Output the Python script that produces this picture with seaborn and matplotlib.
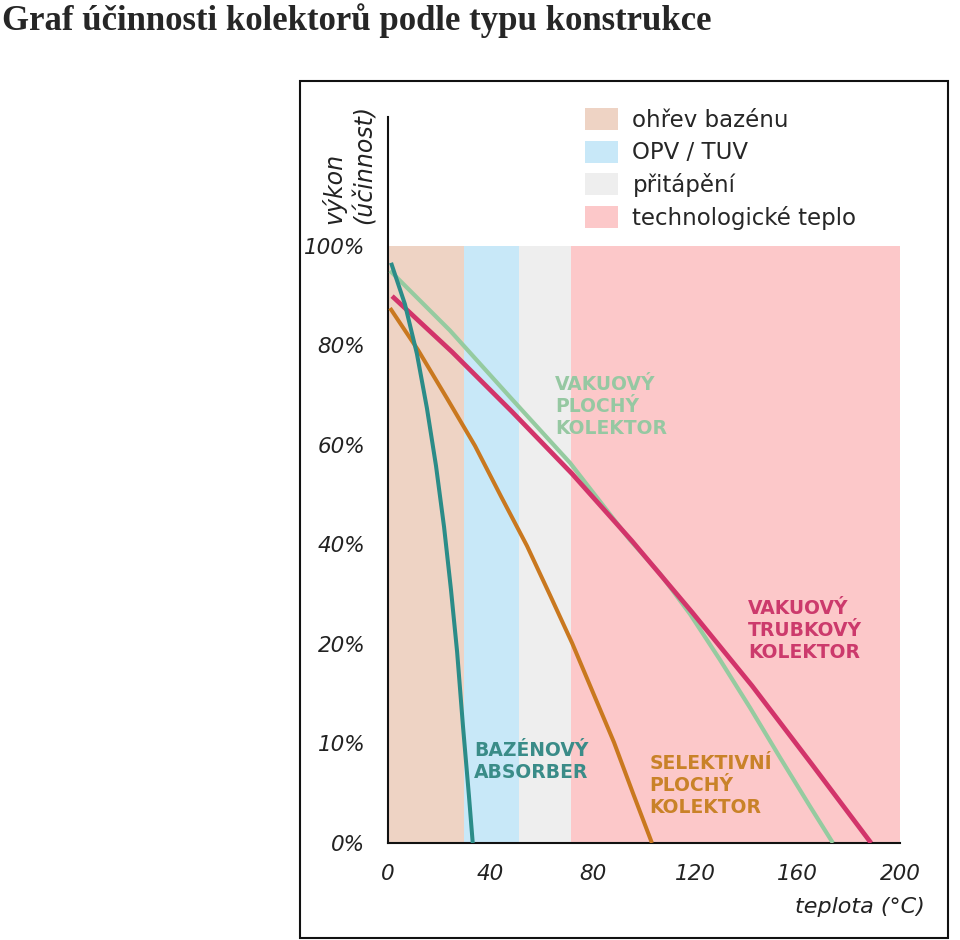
import numpy as np
import pandas as pd
import matplotlib
matplotlib.use('Agg')
import matplotlib.pyplot as plt
from matplotlib.patches import Rectangle
import seaborn as sns

# ---------------- data ----------------
title = 'Graf účinnosti kolektorů podle typu konstrukce'

band_names = ['ohřev bazénu', 'OPV / TUV', 'přitápění', 'technologické teplo']
band_edges = [0, 29.5, 51, 71.5, 200]
band_top = 100

x_ticks = [0, 40, 80, 120, 160, 200]
x_minor = [20, 60, 100, 140, 180]
y_ticks = [0, 10, 20, 40, 60, 80, 100]
y_tick_labels = ['0%', '10%', '20%', '40%', '60%', '80%', '100%']
y_minor = [5, 15, 30, 50, 70, 90]

bazen_name = 'BAZÉNOVÝ\nABSORBER'
bazen_t = [1.2, 6.6, 11.3, 15.2, 18.75, 21.9, 24.6, 27.0, 29.3, 31.6, 33.1]
bazen_eff = [96.6, 88.3, 78.3, 67.4, 55.8, 43.5, 30.9, 19.2, 11.7, 4.8, 0.0]

selekt_name = 'SELEKTIVNÍ\nPLOCHÝ\nKOLEKTOR'
selekt_t = [0.8, 11.7, 23.0, 34.0, 44.1, 54.3, 63.3, 71.9, 80.1, 88.3, 95.7, 103.1]
selekt_eff = [87.5, 79.1, 69.4, 59.8, 49.7, 39.7, 29.8, 20.2, 15.1, 10.1, 5.0, 0.0]

vplochy_name = 'VAKUOVÝ\nPLOCHÝ\nKOLEKTOR'
vplochy_t = [0.8, 24.2, 47.7, 71.1, 94.5, 106.3, 118.0, 129.7, 141.4, 153.1, 164.8, 173.8]
vplochy_eff = [95.0, 83.0, 69.6, 56.4, 40.9, 34.1, 26.0, 18.4, 13.6, 8.6, 3.7, 0.0]

vtrub_name = 'VAKUOVÝ\nTRUBKOVÝ\nKOLEKTOR'
vtrub_t = [1.6, 25.0, 48.4, 71.9, 95.3, 118.75, 142.2, 165.6, 188.7]
vtrub_eff = [89.9, 78.7, 66.7, 54.2, 40.7, 26.4, 15.8, 7.9, 0.0]

# ---------------- styles ----------------
band_colors = ['#eed3c4', '#c8e8f8', '#eeeeee', '#fcc8c9']
line_colors = {
    vplochy_name: '#95cba0',
    vtrub_name: '#d2346a',
    selekt_name: '#c9781f',
    bazen_name: '#2b8c88',
}
line_widths = {vplochy_name: 3.0, vtrub_name: 3.4, selekt_name: 2.9, bazen_name: 2.9}
text_colors = {
    vplochy_name: '#96c8a2',
    vtrub_name: '#cc3a6c',
    selekt_name: '#c98228',
    bazen_name: '#3a8c88',
}
# label anchor (axes fraction, top-left)
label_pos = {
    vplochy_name: (0.326, 0.645),
    vtrub_name: (0.703, 0.336),
    bazen_name: (0.168, 0.140),
    selekt_name: (0.511, 0.122),
}

sns.set_style('white')
plt.rcParams['font.family'] = ['DejaVu Sans']

frames = []
for name, t, e in [(vplochy_name, vplochy_t, vplochy_eff),
                   (vtrub_name, vtrub_t, vtrub_eff),
                   (selekt_name, selekt_t, selekt_eff),
                   (bazen_name, bazen_t, bazen_eff)]:
    frames.append(pd.DataFrame({'teplota': t, 'vykon': e, 'typ': name}))
df = pd.concat(frames, ignore_index=True)

fig = plt.figure(figsize=(9.6, 9.4), dpi=100)
ax = fig.add_axes([388 / 960, 97 / 940, 512 / 960, 726 / 940])


def fwd(y):
    y = np.asarray(y, dtype=float)
    return np.where(y <= 20, y / 10.0, 2 + (y - 20) / 20.0)


def inv(p):
    p = np.asarray(p, dtype=float)
    return np.where(p <= 2, p * 10.0, 20 + (p - 2) * 20.0)


ax.set_yscale('function', functions=(fwd, inv))

# background bands
handles = []
for i, name in enumerate(band_names):
    h = ax.fill_between([band_edges[i], band_edges[i + 1]], 0, band_top,
                        color=band_colors[i], lw=0, label=name, zorder=0)
    handles.append(h)

for name in [vplochy_name, vtrub_name, selekt_name, bazen_name]:
    sub = df[df['typ'] == name]
    sns.lineplot(data=sub, x='teplota', y='vykon', ax=ax, sort=False,
                 estimator=None, color=line_colors[name],
                 linewidth=line_widths[name], legend=False, zorder=3)
for line in ax.lines:
    line.set_solid_joinstyle('round')
    line.set_solid_capstyle('butt')

for name, (px, py) in label_pos.items():
    ax.text(px, py, name, transform=ax.transAxes, ha='left', va='top',
            color=text_colors[name], fontsize=13.5, fontweight='bold',
            linespacing=1.2, zorder=4)

ax.set_xlim(0, 200)
ax.set_ylim(0, 125.9)
ax.set_xticks(x_ticks)
ax.set_xticklabels([str(v) for v in x_ticks])
ax.set_xticks(x_minor, minor=True)
ax.set_yticks(y_ticks)
ax.set_yticklabels(y_tick_labels)
ax.set_yticks(y_minor, minor=True)
ax.set_xlabel('')
ax.set_ylabel('')

for s in ['top', 'right']:
    ax.spines[s].set_visible(False)
for s in ['left', 'bottom']:
    ax.spines[s].set_linewidth(1.5)
    ax.spines[s].set_color('#111111')

ax.tick_params(axis='both', which='both', direction='out', length=8.5,
               width=1.5, color='#111111')
ax.tick_params(axis='y', which='major', pad=8)
ax.tick_params(axis='x', which='major', pad=6.5)
for lab in ax.get_xticklabels() + ax.get_yticklabels():
    lab.set_fontstyle('italic')
    lab.set_fontsize(15.5)
    lab.set_color('#222222')

# axis titles
fig.text(334 / 960, 1 - 224 / 940, 'výkon', rotation=90, ha='center', va='bottom',
         fontsize=17, fontstyle='italic', color='#222222')
fig.text(365 / 960, 1 - 224 / 940, '(účinnost)', rotation=90, ha='center', va='bottom',
         fontsize=17, fontstyle='italic', color='#222222')
fig.text(925 / 960, 1 - 907 / 940, 'teplota (°C)', ha='right', va='center',
         fontsize=16, fontstyle='italic', color='#222222')

# legend of bands
fig.legend(handles, band_names, loc='upper left',
           bbox_to_anchor=(585 / 960, 1 - 108 / 940), frameon=False,
           borderpad=0, borderaxespad=0, handlelength=1.45, handleheight=1.1,
           handletextpad=0.62, labelspacing=0.38,
           prop={'family': 'DejaVu Sans', 'size': 16.5})

# title
fig.text(2 / 960, 1 - 30 / 940, title, ha='left', va='baseline',
         fontsize=25, fontweight='bold', family=['Liberation Serif', 'DejaVu Serif'])

# outer frame of the picture
fig.patches.append(Rectangle((300 / 960, 2 / 940), 648 / 960, 857 / 940,
                             transform=fig.transFigure, fill=False,
                             edgecolor='#111111', lw=1.5))

fig.savefig('out.png', dpi=100)
